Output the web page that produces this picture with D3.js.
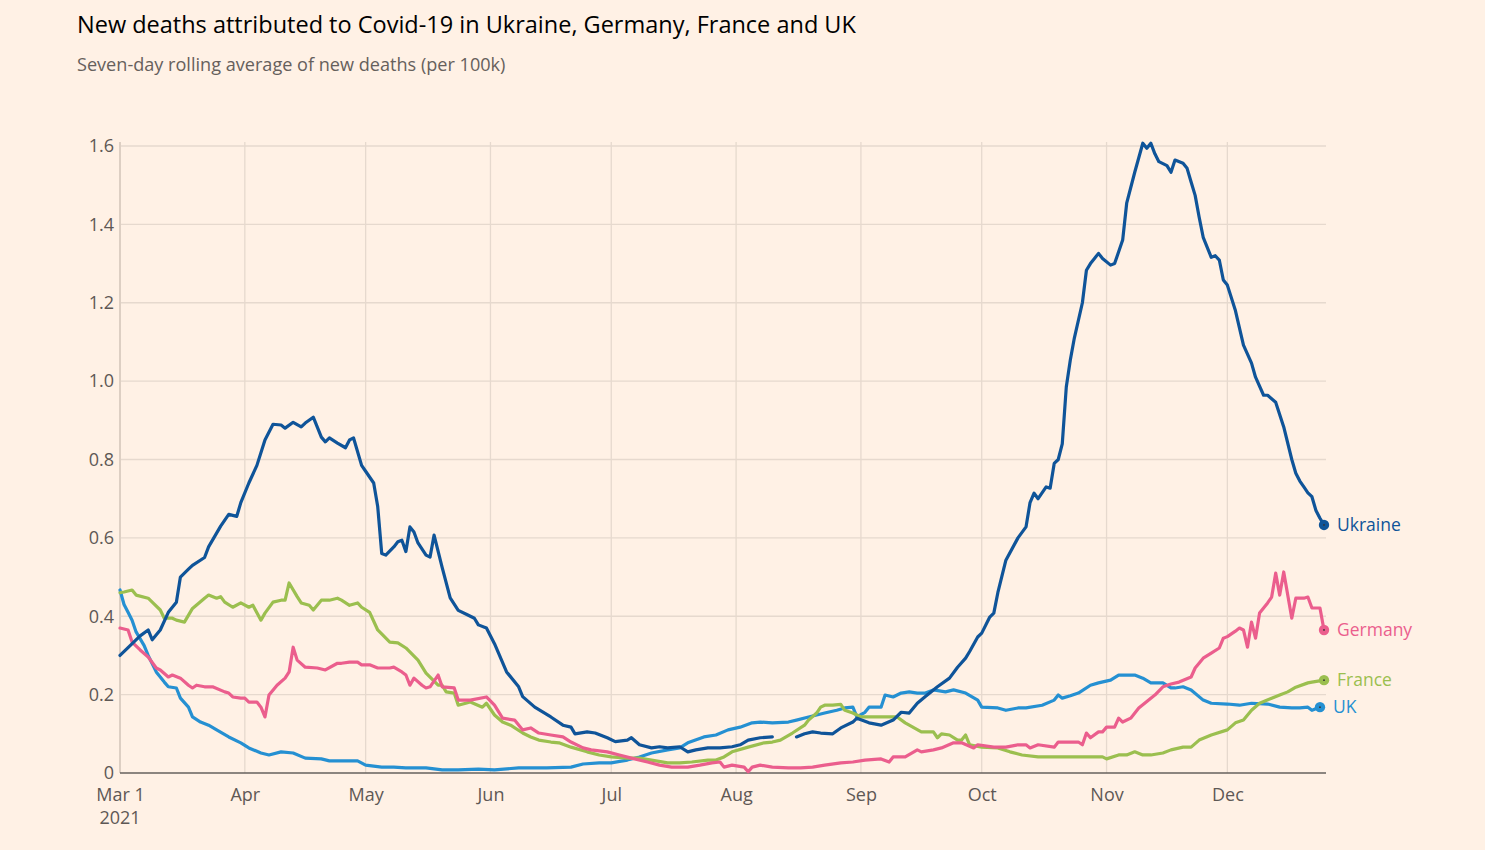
<!DOCTYPE html>
<html>
<head>
<meta charset="utf-8">
<script src="https://cdn.jsdelivr.net/npm/d3@7"></script>
<style>
  html, body { margin: 0; padding: 0; background: #FFF1E5; }
  svg { display: block; }
  text { font-family: "Open Sans", "Noto Sans", sans-serif; }
</style>
</head>
<body>
<svg id="chart" width="1485" height="850"></svg>
<script>
// ---- DATA ----
const titleText = "New deaths attributed to Covid-19 in Ukraine, Germany, France and UK";
const subtitleText = "Seven-day rolling average of new deaths (per 100k)";
const yTicks = [0, 0.2, 0.4, 0.6, 0.8, 1.0, 1.2, 1.4, 1.6];
const xTickDates = ["2021-03-01","2021-04-01","2021-05-01","2021-06-01","2021-07-01","2021-08-01","2021-09-01","2021-10-01","2021-11-01","2021-12-01"];
const xTickLabels = ["Mar 1","Apr","May","Jun","Jul","Aug","Sep","Oct","Nov","Dec"];
const seriesNames = ["UK", "France", "Germany", "Ukraine"];

// [MM-DD, value]; null = no data
const ukraine = [
["03-01",0.30],["03-03",0.32],["03-06",0.35],["03-08",0.365],["03-09",0.34],["03-11",0.365],["03-13",0.41],["03-15",0.436],
["03-16",0.50],["03-18",0.52],["03-19",0.53],["03-22",0.55],["03-23",0.577],["03-26",0.63],["03-28",0.66],["03-30",0.655],
["03-31",0.69],["04-02",0.74],["04-04",0.785],["04-06",0.85],["04-08",0.89],["04-10",0.888],["04-11",0.88],["04-13",0.895],
["04-15",0.883],["04-16",0.893],["04-18",0.908],["04-20",0.857],["04-21",0.845],["04-22",0.855],["04-24",0.842],["04-26",0.83],
["04-27",0.85],["04-28",0.855],["04-30",0.785],["05-01",0.77],["05-03",0.74],["05-04",0.68],["05-05",0.56],["05-06",0.556],
["05-08",0.577],["05-09",0.59],["05-10",0.594],["05-11",0.565],["05-12",0.628],["05-13",0.615],["05-14",0.587],["05-16",0.556],
["05-17",0.551],["05-18",0.607],["05-20",0.525],["05-22",0.447],["05-24",0.415],["05-26",0.405],["05-28",0.395],["05-29",0.378],
["05-31",0.37],["06-02",0.33],["06-05",0.258],["06-08",0.22],["06-09",0.195],["06-12",0.168],["06-16",0.143],["06-19",0.122],
["06-21",0.117],["06-22",0.10],["06-25",0.105],["06-27",0.102],["06-30",0.09],["07-02",0.08],["07-05",0.084],["07-06",0.09],
["07-08",0.072],["07-11",0.064],["07-13",0.067],["07-15",0.064],["07-18",0.067],["07-20",0.054],["07-22",0.059],["07-25",0.064],
["07-28",0.064],["07-31",0.067],["08-02",0.072],["08-04",0.084],["08-07",0.09],["08-10",0.092],["08-11",null],["08-15",null],
["08-16",0.092],["08-18",0.10],["08-20",0.105],["08-22",0.102],["08-25",0.10],["08-27",0.115],["08-30",0.13],["08-31",0.14],
["09-03",0.128],["09-06",0.122],["09-09",0.135],["09-11",0.155],["09-13",0.153],["09-15",0.178],["09-17",0.195],["09-20",0.22],
["09-23",0.242],["09-25",0.27],["09-27",0.293],["09-28",0.31],["09-30",0.347],["10-01",0.357],["10-03",0.398],["10-04",0.408],
["10-05",0.46],["10-07",0.543],["10-10",0.60],["10-12",0.628],["10-13",0.69],["10-14",0.714],["10-15",0.70],["10-17",0.73],
["10-18",0.727],["10-19",0.79],["10-20",0.80],["10-21",0.84],["10-22",0.985],["10-23",1.054],["10-24",1.11],["10-26",1.20],
["10-27",1.283],["10-28",1.30],["10-29",1.313],["10-30",1.326],["10-31",1.313],["11-02",1.296],["11-03",1.30],["11-05",1.36],
["11-06",1.454],["11-08",1.533],["11-09",1.57],["11-10",1.607],["11-11",1.594],["11-12",1.607],["11-13",1.58],["11-14",1.56],
["11-16",1.55],["11-17",1.533],["11-18",1.564],["11-20",1.556],["11-21",1.543],["11-22",1.508],["11-23",1.474],["11-24",1.418],
["11-25",1.367],["11-27",1.316],["11-28",1.32],["11-29",1.309],["11-30",1.258],["12-01",1.245],["12-03",1.18],["12-05",1.092],
["12-07",1.046],["12-08",1.01],["12-10",0.964],["12-11",0.964],["12-13",0.946],["12-15",0.883],["12-17",0.80],["12-18",0.765],
["12-19",0.745],["12-20",0.73],["12-21",0.715],["12-22",0.705],["12-23",0.67],["12-24",0.65],["12-25",0.633]
];

const france = [
["03-01",0.46],["03-02",0.462],["03-04",0.467],["03-05",0.454],["03-08",0.446],["03-09",0.436],["03-11",0.416],["03-12",0.395],
["03-14",0.395],["03-15",0.39],["03-17",0.385],["03-19",0.42],["03-22",0.446],["03-23",0.454],["03-25",0.446],["03-26",0.45],
["03-27",0.436],["03-29",0.423],["03-31",0.434],["04-02",0.423],["04-03",0.428],["04-05",0.39],["04-06",0.408],["04-08",0.436],
["04-10",0.441],["04-11",0.441],["04-12",0.485],["04-14",0.45],["04-15",0.434],["04-17",0.428],["04-18",0.416],["04-20",0.441],
["04-22",0.441],["04-24",0.446],["04-25",0.441],["04-27",0.428],["04-29",0.434],["04-30",0.423],["05-02",0.41],["05-04",0.365],
["05-07",0.334],["05-09",0.332],["05-11",0.319],["05-14",0.288],["05-16",0.255],["05-19",0.224],["05-20",0.224],["05-21",0.207],
["05-23",0.204],["05-24",0.173],["05-27",0.181],["05-30",0.168],["05-31",0.178],["06-02",0.148],["06-04",0.13],["06-06",0.122],
["06-09",0.102],["06-11",0.092],["06-13",0.084],["06-16",0.079],["06-18",0.077],["06-21",0.066],["06-25",0.054],["06-28",0.046],
["07-01",0.041],["07-05",0.038],["07-08",0.038],["07-11",0.033],["07-15",0.026],["07-18",0.026],["07-21",0.028],["07-25",0.033],
["07-27",0.033],["07-29",0.041],["07-31",0.054],["08-04",0.066],["08-08",0.077],["08-10",0.079],["08-12",0.084],["08-15",0.102],
["08-18",0.122],["08-19",0.135],["08-21",0.153],["08-22",0.168],["08-23",0.173],["08-25",0.173],["08-27",0.175],["08-28",0.16],
["08-30",0.153],["09-01",0.143],["09-04",0.143],["09-07",0.143],["09-10",0.143],["09-12",0.128],["09-16",0.105],["09-19",0.105],
["09-20",0.09],["09-21",0.10],["09-23",0.097],["09-25",0.084],["09-26",0.084],["09-27",0.097],["09-28",0.072],["10-01",0.066],
["10-05",0.064],["10-08",0.054],["10-11",0.046],["10-15",0.041],["10-19",0.041],["10-24",0.041],["10-29",0.041],["10-31",0.041],
["11-01",0.036],["11-04",0.046],["11-06",0.046],["11-08",0.054],["11-10",0.046],["11-12",0.046],["11-15",0.051],["11-17",0.059],
["11-20",0.066],["11-22",0.066],["11-24",0.084],["11-27",0.097],["12-01",0.11],["12-03",0.128],["12-05",0.135],["12-07",0.16],
["12-09",0.178],["12-12",0.191],["12-14",0.199],["12-16",0.207],["12-18",0.219],["12-21",0.23],["12-22",0.232],["12-25",0.237]
];

const germany = [
["03-01",0.37],["03-03",0.365],["03-04",0.334],["03-06",0.314],["03-08",0.296],["03-10",0.268],["03-11",0.263],["03-13",0.245],
["03-14",0.25],["03-16",0.242],["03-18",0.224],["03-19",0.217],["03-20",0.224],["03-22",0.22],["03-24",0.22],["03-27",0.207],
["03-28",0.204],["03-29",0.194],["03-31",0.191],["04-01",0.191],["04-02",0.181],["04-04",0.181],["04-05",0.168],["04-06",0.143],
["04-07",0.199],["04-09",0.224],["04-11",0.242],["04-12",0.258],["04-13",0.321],["04-14",0.288],["04-16",0.27],["04-19",0.268],
["04-21",0.263],["04-24",0.28],["04-25",0.28],["04-27",0.283],["04-29",0.283],["04-30",0.276],["05-02",0.276],["05-04",0.268],
["05-07",0.268],["05-08",0.27],["05-10",0.258],["05-11",0.25],["05-12",0.224],["05-13",0.242],["05-15",0.224],["05-16",0.217],
["05-17",0.22],["05-19",0.25],["05-20",0.22],["05-23",0.217],["05-24",0.186],["05-27",0.186],["05-31",0.194],["06-02",0.173],
["06-04",0.14],["06-07",0.135],["06-09",0.11],["06-11",0.115],["06-13",0.102],["06-16",0.097],["06-19",0.092],["06-21",0.079],
["06-24",0.064],["06-26",0.059],["06-30",0.054],["07-03",0.046],["07-06",0.038],["07-10",0.028],["07-13",0.02],["07-16",0.015],
["07-20",0.015],["07-23",0.02],["07-26",0.026],["07-28",0.028],["07-29",0.015],["07-31",0.02],["08-03",0.015],["08-04",0.003],
["08-05",0.015],["08-07",0.02],["08-10",0.015],["08-14",0.013],["08-17",0.013],["08-20",0.015],["08-23",0.02],["08-27",0.026],
["08-30",0.028],["09-02",0.033],["09-06",0.036],["09-08",0.028],["09-09",0.041],["09-12",0.041],["09-15",0.059],["09-16",0.054],
["09-19",0.059],["09-21",0.064],["09-24",0.077],["09-26",0.077],["09-29",0.064],["09-30",0.072],["10-04",0.066],["10-07",0.066],
["10-10",0.072],["10-12",0.072],["10-13",0.064],["10-15",0.072],["10-19",0.066],["10-20",0.079],["10-22",0.079],["10-25",0.079],
["10-26",0.072],["10-27",0.102],["10-28",0.09],["10-30",0.105],["10-31",0.105],["11-01",0.117],["11-03",0.117],["11-04",0.14],
["11-05",0.13],["11-07",0.14],["11-09",0.166],["11-12",0.191],["11-13",0.199],["11-15",0.22],["11-17",0.227],["11-19",0.232],
["11-22",0.245],["11-23",0.268],["11-25",0.293],["11-27",0.306],["11-29",0.319],["11-30",0.344],["12-01",0.348],["12-02",0.355],
["12-03",0.362],["12-04",0.37],["12-05",0.365],["12-06",0.321],["12-07",0.385],["12-08",0.344],["12-09",0.408],["12-11",0.434],
["12-12",0.449],["12-13",0.51],["12-14",0.454],["12-15",0.513],["12-17",0.395],["12-18",0.446],["12-20",0.446],["12-21",0.449],
["12-22",0.421],["12-24",0.421],["12-25",0.365]
];

const uk = [
["03-01",0.467],["03-02",0.43],["03-03",0.41],["03-04",0.39],["03-05",0.36],["03-07",0.325],["03-08",0.30],["03-10",0.258],
["03-12",0.232],["03-13",0.22],["03-15",0.217],["03-16",0.191],["03-18",0.168],["03-19",0.143],["03-21",0.13],["03-23",0.122],
["03-25",0.11],["03-28",0.092],["03-31",0.077],["04-02",0.064],["04-05",0.051],["04-07",0.046],["04-10",0.054],["04-13",0.051],
["04-16",0.038],["04-20",0.036],["04-22",0.031],["04-26",0.031],["04-29",0.031],["05-01",0.02],["05-05",0.015],["05-08",0.015],
["05-11",0.013],["05-16",0.013],["05-20",0.008],["05-24",0.008],["05-29",0.01],["06-02",0.008],["06-08",0.013],["06-15",0.013],
["06-21",0.015],["06-24",0.023],["06-28",0.026],["07-01",0.026],["07-05",0.033],["07-08",0.041],["07-11",0.051],["07-15",0.059],
["07-18",0.064],["07-20",0.077],["07-24",0.092],["07-27",0.097],["07-30",0.11],["08-02",0.117],["08-05",0.128],["08-07",0.13],
["08-10",0.128],["08-14",0.13],["08-16",0.135],["08-19",0.143],["08-21",0.148],["08-23",0.153],["08-26",0.16],["08-28",0.166],
["08-30",0.168],["08-31",0.143],["09-02",0.155],["09-03",0.168],["09-06",0.168],["09-07",0.199],["09-09",0.194],["09-11",0.204],
["09-13",0.207],["09-15",0.204],["09-17",0.204],["09-19",0.212],["09-22",0.207],["09-24",0.212],["09-27",0.204],["09-30",0.186],
["10-01",0.168],["10-05",0.166],["10-07",0.16],["10-10",0.166],["10-12",0.166],["10-16",0.173],["10-19",0.186],["10-20",0.199],
["10-21",0.191],["10-23",0.197],["10-25",0.204],["10-28",0.224],["10-30",0.23],["11-02",0.237],["11-04",0.25],["11-06",0.25],
["11-08",0.25],["11-10",0.242],["11-12",0.23],["11-15",0.23],["11-17",0.217],["11-18",0.217],["11-20",0.22],["11-22",0.212],
["11-25",0.186],["11-27",0.178],["12-01",0.176],["12-04",0.173],["12-07",0.178],["12-11",0.176],["12-14",0.168],["12-17",0.166],
["12-19",0.166],["12-21",0.168],["12-22",0.16],["12-24",0.168]
];

// ---- STYLE / LAYOUT ----
const colors = { Ukraine: "#0f5499", Germany: "#eb5e8d", France: "#9bbf4f", UK: "#2590d2" };
const seriesData = { Ukraine: ukraine, Germany: germany, France: france, UK: uk };

const parse = d3.timeParse("%Y-%m-%d");
const toPts = arr => arr.map(([d, v]) => ({ date: parse("2021-" + d), value: v }));

const svg = d3.select("#chart");
const W = 1485, H = 850;
const plotLeft = 120, plotRight = 1324, plotTop = 146, plotBottom = 773;
const axisFont = 18, axisColor = "#5e5855";

const x = d3.scaleTime()
  .domain([parse("2021-03-01"), parse("2021-12-25")])
  .range([plotLeft, plotRight]);
const y = d3.scaleLinear().domain([0, 1.6]).range([plotBottom, plotTop]);

svg.append("rect").attr("width", W).attr("height", H).attr("fill", "#FFF1E5");

// Title & subtitle
svg.append("text").attr("x", 77).attr("y", 33)
  .attr("font-size", 23.5).attr("fill", "#000").text(titleText);
svg.append("text").attr("x", 77).attr("y", 71)
  .attr("font-size", 18.1).attr("fill", "#66605c").text(subtitleText);

// Horizontal grid
svg.append("g").selectAll("line").data(yTicks.filter(t => t > 0)).join("line")
  .attr("x1", plotLeft).attr("x2", plotRight + 2)
  .attr("y1", d => y(d)).attr("y2", d => y(d))
  .attr("stroke", "#e6d9ce").attr("stroke-width", 1.3);

// Vertical grid
const xDates = xTickDates.map(parse);
svg.append("g").selectAll("line").data(xDates).join("line")
  .attr("x1", d => x(d)).attr("x2", d => x(d))
  .attr("y1", plotTop - 4).attr("y2", plotBottom)
  .attr("stroke", (d, i) => i === 0 ? "#ddcfc3" : "#e6d9ce")
  .attr("stroke-width", (d, i) => i === 0 ? 2 : 1.3);

// Baseline
svg.append("line").attr("x1", plotLeft).attr("x2", plotRight + 2)
  .attr("y1", plotBottom).attr("y2", plotBottom)
  .attr("stroke", "#66605c").attr("stroke-width", 1.3);

// Y axis labels
const yAxis = d3.axisLeft(y).tickValues(yTicks)
  .tickFormat(d => d === 0 ? "0" : d3.format(".1f")(d))
  .tickSize(0).tickPadding(6);
const gy = svg.append("g").attr("transform", `translate(${plotLeft},0)`).call(yAxis);
gy.select(".domain").remove();
gy.selectAll("text").attr("font-size", axisFont).attr("fill", axisColor)
  .attr("font-family", "'Open Sans', 'Noto Sans', sans-serif");

// X axis labels
const xAxis = d3.axisBottom(x).tickValues(xDates)
  .tickFormat((d, i) => xTickLabels[i]).tickSize(0).tickPadding(15);
const gx = svg.append("g").attr("transform", `translate(0,${plotBottom})`).call(xAxis);
gx.select(".domain").remove();
gx.selectAll("text").attr("font-size", axisFont).attr("fill", axisColor)
  .attr("font-family", "'Open Sans', 'Noto Sans', sans-serif");
gx.append("text").attr("x", x(xDates[0])).attr("y", 51)
  .attr("text-anchor", "middle").attr("font-size", axisFont).attr("fill", axisColor)
  .attr("font-family", "'Open Sans', 'Noto Sans', sans-serif").text("2021");

// Lines
const line = d3.line()
  .defined(d => d.value !== null)
  .x(d => x(d.date)).y(d => y(d.value))
  .curve(d3.curveLinear);

const gLines = svg.append("g");
seriesNames.forEach(name => {
  const pts = toPts(seriesData[name]);
  gLines.append("path").datum(pts)
    .attr("fill", "none").attr("stroke", colors[name])
    .attr("stroke-width", 3.2).attr("stroke-linejoin", "round").attr("stroke-linecap", "round")
    .attr("d", line);
});

// End markers & labels
seriesNames.forEach(name => {
  const pts = toPts(seriesData[name]).filter(d => d.value !== null);
  const last = pts[pts.length - 1];
  const cx = x(last.date), cy = y(last.value);
  svg.append("circle").attr("cx", cx).attr("cy", cy).attr("r", 5.2).attr("fill", colors[name]);
  svg.append("circle").attr("cx", cx).attr("cy", cy).attr("r", 0.9).attr("fill", "#333");
  svg.append("text").attr("x", cx + 13).attr("y", cy)
    .attr("dy", "0.35em").attr("font-size", 17.5).attr("fill", colors[name])
    .text(name);
});
</script>
</body>
</html>
